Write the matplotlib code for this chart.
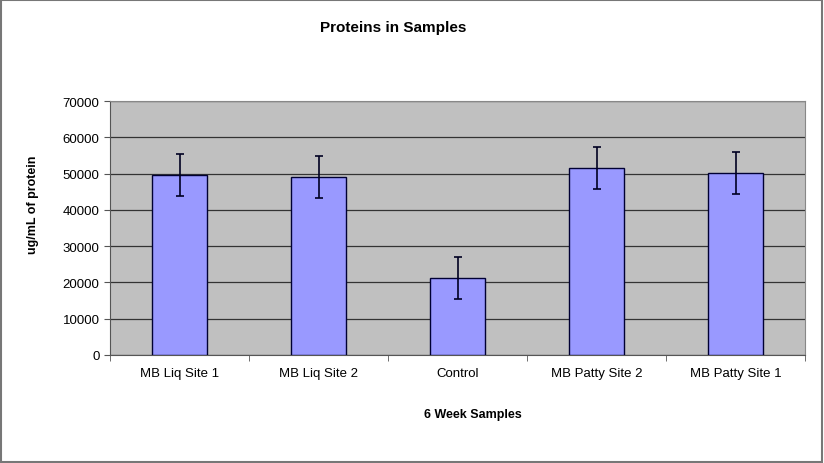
import matplotlib.pyplot as plt
import numpy as np

plt.rcParams['font.family'] = ['Liberation Sans', 'DejaVu Sans']

categories = ['MB Liq Site 1', 'MB Liq Site 2', 'Control', 'MB Patty Site 2', 'MB Patty Site 1']
values = [49600, 49100, 21300, 51500, 50200]
errors = [5800, 5800, 5800, 5800, 5800]
y_ticks = [0, 10000, 20000, 30000, 40000, 50000, 60000, 70000]

fig = plt.figure(figsize=(8.24, 4.64), dpi=100)
ax = fig.add_axes([0.1335, 0.2328, 0.8435, 0.547])
ax.set_facecolor('#C0C0C0')

x = np.arange(len(categories))
ax.bar(x, values, width=0.4, color='#9999FF', edgecolor='#000033', linewidth=1.0, zorder=3)
ax.errorbar(x, values, yerr=errors, fmt='none', ecolor='#000022', elinewidth=1.2,
            capsize=3, capthick=1.2, zorder=4)

ax.set_xlim(-0.5, len(categories) - 0.5)
ax.set_ylim(0, 70000)
ax.set_yticks(y_ticks)
ax.set_yticklabels([str(v) for v in y_ticks], fontsize=9.5)
ax.yaxis.grid(True, color='#333333', linewidth=0.9, zorder=1)
ax.set_axisbelow(True)

ax.set_xticks(x)
ax.set_xticklabels(categories, fontsize=9.5)
ax.tick_params(axis='x', which='major', length=0, pad=9)
ax.set_xticks(np.arange(-0.5, len(categories), 1.0), minor=True)
ax.tick_params(axis='x', which='minor', length=4, color='#555555')
ax.tick_params(axis='y', length=4, color='#555555')

for side in ['top', 'right']:
    ax.spines[side].set_color('#888888')
ax.spines['left'].set_color('#555555')
ax.spines['bottom'].set_color('#555555')

fig.text(0.477, 0.94, 'Proteins in Samples', fontsize=11, fontweight='bold',
         ha='center', va='center')
fig.text(0.040, 0.558, 'ug/mL of protein', fontsize=9, fontweight='bold',
         rotation=90, ha='center', va='center')
fig.text(0.574, 0.106, '6 Week Samples', fontsize=9, fontweight='bold',
         ha='center', va='center')

fig.patches.append(plt.Rectangle((0.001, 0.002), 0.997, 0.996, transform=fig.transFigure,
                                 fill=False, edgecolor='#777777', linewidth=1.5))

fig.savefig('out.png', dpi=100)
